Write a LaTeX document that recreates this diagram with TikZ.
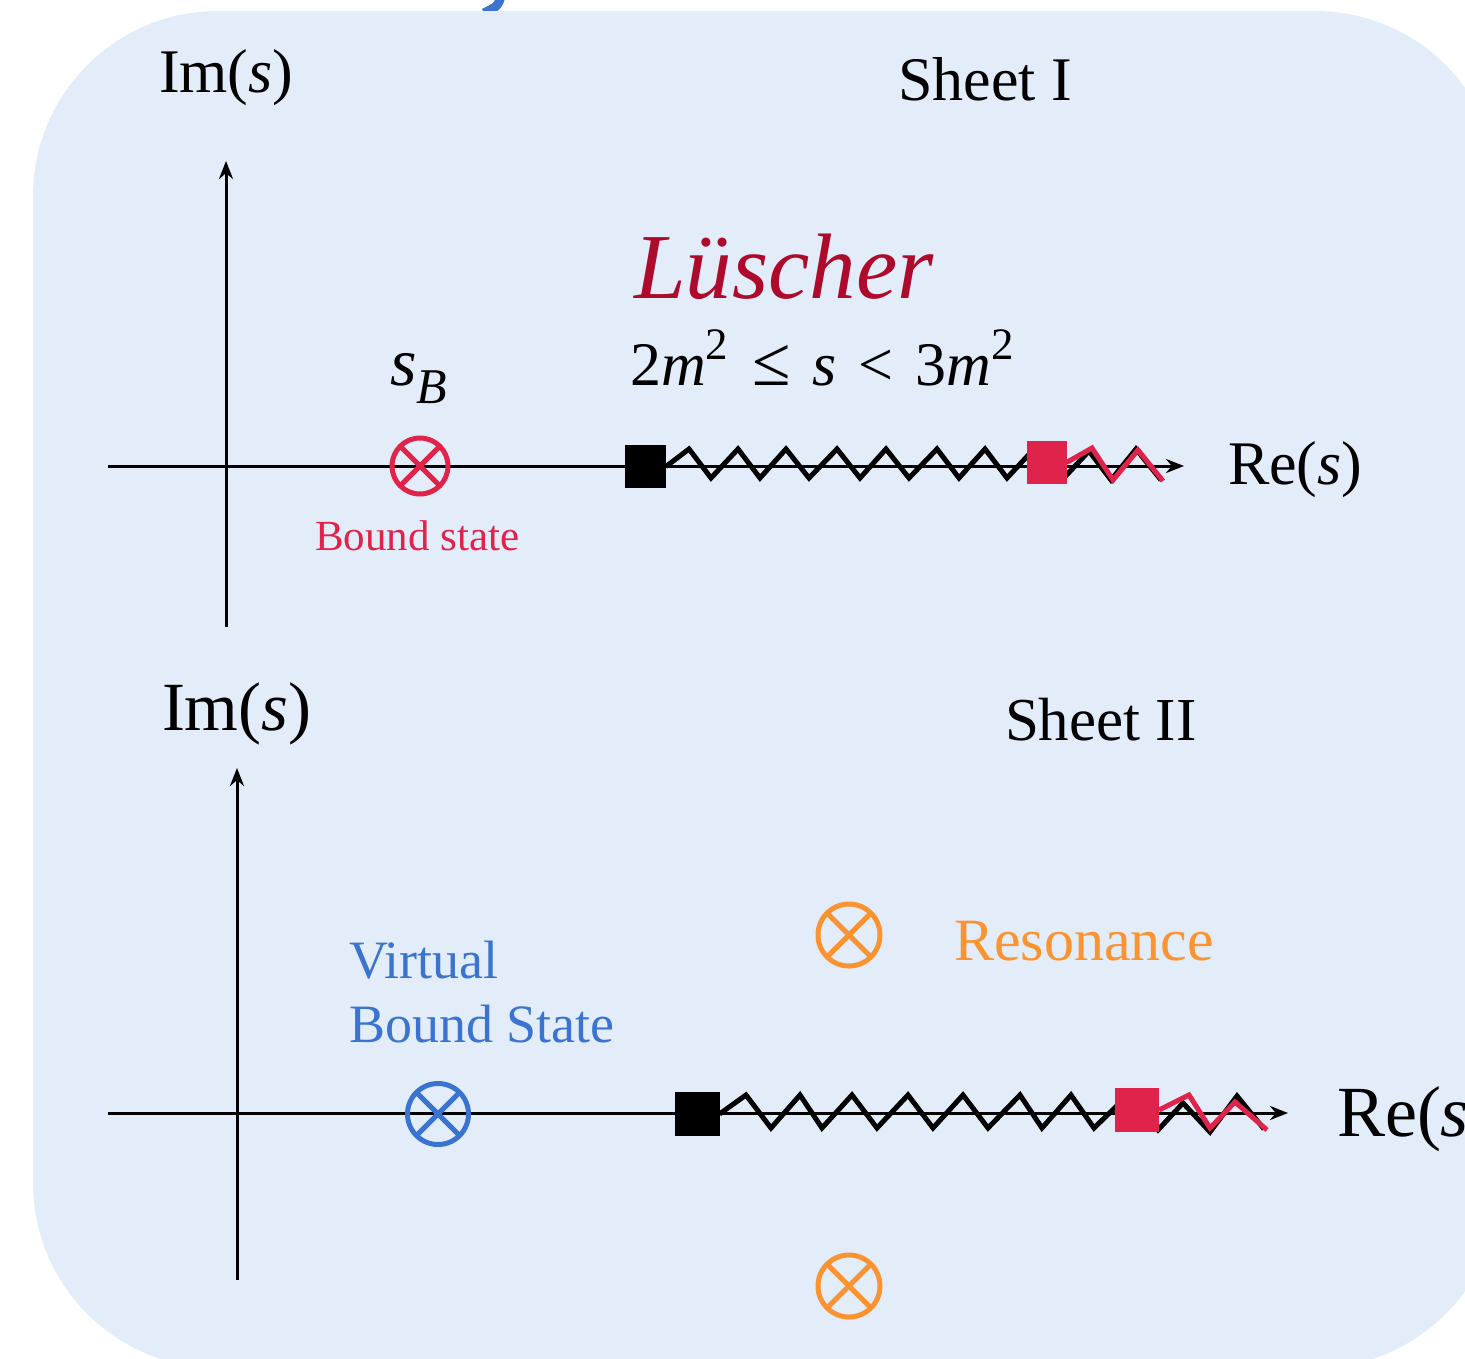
\documentclass[tikz,border=0pt]{standalone}
\usepackage{fontspec}
\setmainfont{Liberation Serif}
\usetikzlibrary{arrows.meta}
\definecolor{bgblue}{HTML}{E3EDF9}
\definecolor{crim}{HTML}{E0234A}
\definecolor{lus}{HTML}{AE0A2C}
\definecolor{vblue}{HTML}{3B74D0}
\definecolor{orng}{HTML}{FB9330}
\newcommand\fsz[1]{\fontsize{#1}{#1}\selectfont}
\begin{document}
\begin{tikzpicture}[x=1pt,y=-1pt,
  lbl/.style={anchor=base west,inner sep=0pt,outer sep=0pt},
  axisline/.style={line width=3pt,-{Stealth[length=18pt,width=14pt]}},
  sqbox/.style={rectangle,inner sep=0pt,outer sep=0pt,fill=#1},
  xcirc/.style={circle,draw=#1,line width=5pt,minimum size=58pt,inner sep=0pt,outer sep=0pt},
  zig/.style={line width=5pt,line join=miter,line cap=butt},
]
\useasboundingbox (0,0) rectangle (1465,1358);
% cut-off fragment above the panel
\draw[vblue,line width=9pt] (501,-4) .. controls (498,6) .. (484,13);
% panel
\fill[bgblue,rounded corners=185pt] (33,11) rectangle (1500,1368);

% ---------------- Sheet I ----------------
\coordinate (v1b) at (226,627);
\coordinate (v1t) at (226,161);
\coordinate (h1l) at (108,466);
\coordinate (h1r) at (1184,466);
\draw[axisline] (v1b) -- (v1t);
\draw[axisline] (h1l) -- (h1r);

\node[sqbox=black,minimum width=41pt,minimum height=43pt] (bs1) at (645.5,466.5) {};
\draw[zig] (bs1.east) -- (689,449) -- (711,478) -- (738,449) -- (760,478) -- (786,449)
  -- (809,478) -- (837,449) -- (860,478) -- (886,449) -- (909,478) -- (937,449)
  -- (959,478) -- (985,449) -- (1007,478) -- (1034,449) -- (1062,480) -- (1089,451)
  -- (1111,480) -- (1136,449) -- (1161,480);
\node[sqbox=crim,minimum width=40pt,minimum height=43pt] (rs1) at (1046.5,462.5) {};
\draw[zig,crim] (rs1.east) -- (1092,448) -- (1113,480) -- (1138,450) -- (1163,481);

\node[xcirc=crim,minimum size=56pt] (cb) at (420,466) {};
\draw[crim,line width=5pt] (cb.45) -- (cb.225) (cb.135) -- (cb.315);

\node[lbl] (im1) at (159,92) {\fsz{62}Im(\textit{s})};
\node[lbl] (sh1) at (898,100) {\fsz{62}Sheet I};
\node[lbl,text=lus] (lu) at (634,298) {\fsz{93}\itshape Lüscher};
\node[lbl] (ineq) at (630,385) {\fsz{62}2\textit{m}\raisebox{26pt}{\fsz{45}2}\hspace{24pt}{\fsz{70}≤}\hspace{22pt}\textit{s}\hspace{22pt}<\hspace{22pt}3\textit{m}\raisebox{26pt}{\fsz{45}2}};
\node[lbl] (sb) at (390,385) {\fsz{68}\textit{s}\raisebox{-18pt}{\fsz{50}\textit{B}}};
\node[lbl,text=crim] (bst) at (315,550) {\fsz{43}Bound state};
\node[lbl] (re1) at (1228,484) {\fsz{62}Re(\textit{s})};

% ---------------- Sheet II ----------------
\coordinate (v2b) at (237,1280);
\coordinate (v2t) at (237,768);
\coordinate (h2l) at (108,1113);
\coordinate (h2r) at (1288,1113);
\draw[axisline] (v2b) -- (v2t);
\draw[axisline] (h2l) -- (h2r);

\node[sqbox=black,minimum width=45pt,minimum height=44pt] (bs2) at (697,1114) {};
\draw[zig] (bs2.east) -- (746,1095) -- (771,1128) -- (800,1095) -- (822,1128) -- (852,1095)
  -- (877,1128) -- (908,1095) -- (933,1128) -- (963,1095) -- (988,1128) -- (1020,1095)
  -- (1042,1128) -- (1071,1095) -- (1094,1128) -- (1126,1097) -- (1158,1130)
  -- (1183,1103) -- (1210,1132) -- (1237,1096) -- (1264,1129);
\node[sqbox=crim,minimum width=44pt,minimum height=44pt] (rs2) at (1137,1110) {};
\draw[zig,crim] (rs2.east) -- (1189,1095) -- (1210,1128) -- (1235,1102) -- (1267,1130);

\node[xcirc=vblue,minimum size=61pt] (cv) at (438,1114) {};
\draw[vblue,line width=5pt] (cv.45) -- (cv.225) (cv.135) -- (cv.315);
\node[xcirc=orng,minimum size=62pt] (cr1) at (849,935) {};
\draw[orng,line width=5pt] (cr1.45) -- (cr1.225) (cr1.135) -- (cr1.315);
\node[xcirc=orng,minimum size=62pt] (cr2) at (849,1286) {};
\draw[orng,line width=5pt] (cr2.45) -- (cr2.225) (cr2.135) -- (cr2.315);

\node[lbl] (im2) at (162,730) {\fsz{69}Im(\textit{s})};
\node[lbl] (sh2) at (1005,740) {\fsz{61}Sheet II};
\node[lbl,text=vblue] (vir) at (349,978) {\fsz{54}Virtual};
\node[lbl,text=vblue] (vbs) at (349,1042) {\fsz{54}Bound State};
\node[lbl,text=orng] (res) at (954,960) {\fsz{60}Resonance};
\node[lbl] (re2) at (1337,1136) {\fsz{72}Re(\textit{s})};
\end{tikzpicture}
\end{document}
